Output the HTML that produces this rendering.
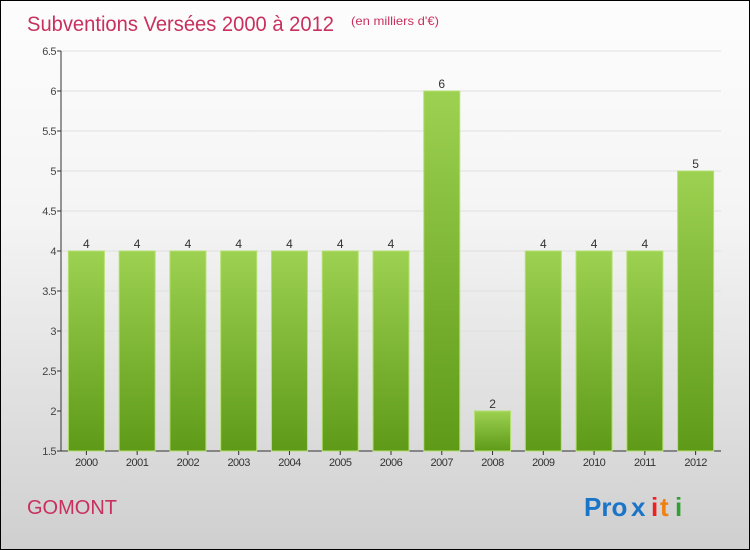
<!DOCTYPE html>
<html><head><meta charset="utf-8"><style>
body{margin:0}
#c{width:748px;height:548px;border:1px solid #000;background:linear-gradient(#fdfdfd,#f4f4f4 40%,#cfcfcf);position:relative;font-family:"Liberation Sans",sans-serif;overflow:hidden}
</style></head><body>
<div id="c">
<svg width="748" height="548" style="position:absolute;left:0;top:0">
<defs><linearGradient id="g" x1="0" y1="0" x2="0" y2="1"><stop offset="0" stop-color="#9dd151"/><stop offset="1" stop-color="#5e9a18"/></linearGradient></defs>
<text x="26" y="30" font-size="21" fill="#c8305e" textLength="307" lengthAdjust="spacingAndGlyphs">Subventions Versées 2000 à 2012</text>
<text x="350" y="24" font-size="12" fill="#c8305e" textLength="88" lengthAdjust="spacingAndGlyphs">(en milliers d'€)</text>
<g id="plot"></g>
<text x="26" y="513" font-size="20" fill="#c8305e">GOMONT</text>
<g font-size="26" font-weight="bold" font-family="Liberation Sans,sans-serif">
<text x="583" y="515" fill="#1a74c8">Pro</text><text x="630" y="515" fill="#1a74c8">x</text><text x="650" y="515" fill="#f02020">i</text><text x="659" y="515" fill="#f08010">t</text><text x="674" y="515" fill="#30a030">i</text>
</g>
</svg>
</div>
<script>
const categories=["2000","2001","2002","2003","2004","2005","2006","2007","2008","2009","2010","2011","2012"];
const values=[4,4,4,4,4,4,4,6,2,4,4,4,5];
const yTicks=[1.5,2,2.5,3,3.5,4,4.5,5,5.5,6,6.5];
(function(){
const ns="http://www.w3.org/2000/svg";
const g=document.getElementById('plot');
const x0=60,x1=720,yMin=1.5,yMax=6.5,yTop=50,bot=450;
const y=v=>bot-(v-yMin)/(yMax-yMin)*(bot-yTop);
const step=(x1-x0)/categories.length;
const cx=i=>x0+step*(i+0.5);
function mk(t,a){const e=document.createElementNS(ns,t);for(const k in a)e.setAttribute(k,a[k]);g.appendChild(e);return e;}
yTicks.forEach(v=>{
 const l=mk('line',{x1:x0,x2:x1,y1:y(v),y2:y(v),stroke:'#e0e0e0'});
 
 
 const t=mk('line',{x1:x0-4,x2:x0,y1:y(v),y2:y(v),stroke:'#333'});
 
 
 const tx=mk('text',{x:x0-5,y:y(v)+4,'font-size':11,fill:'#444','text-anchor':'end','letter-spacing':'-0.5'});
 tx.textContent=v;
 
 
});
const ax=mk('line',{x1:x0,x2:x0,y1:yTop,y2:bot,stroke:'#333'});


const bx=mk('line',{x1:x0,x2:x1,y1:bot,y2:bot,stroke:'#333'});


categories.forEach((c,i)=>{
 const w=36,v=values[i];
 const r=mk('rect',{x:cx(i)-w/2,y:y(v),width:w,height:bot-y(v),fill:'url(#g)',stroke:'#b5e070','stroke-width':1});
 
 
 const lb=mk('text',{x:cx(i),y:y(v)-3,'font-size':12,fill:'#333','text-anchor':'middle'});
 lb.textContent=v;
 
 
 const tk=mk('line',{x1:cx(i),x2:cx(i),y1:bot,y2:bot+4,stroke:'#333'});
 
 
 const xl=mk('text',{x:cx(i),y:bot+15,'font-size':11,fill:'#333','text-anchor':'middle','letter-spacing':'-0.5'});
 xl.textContent=c;
 
 
});
})();
</script>
</body></html>
